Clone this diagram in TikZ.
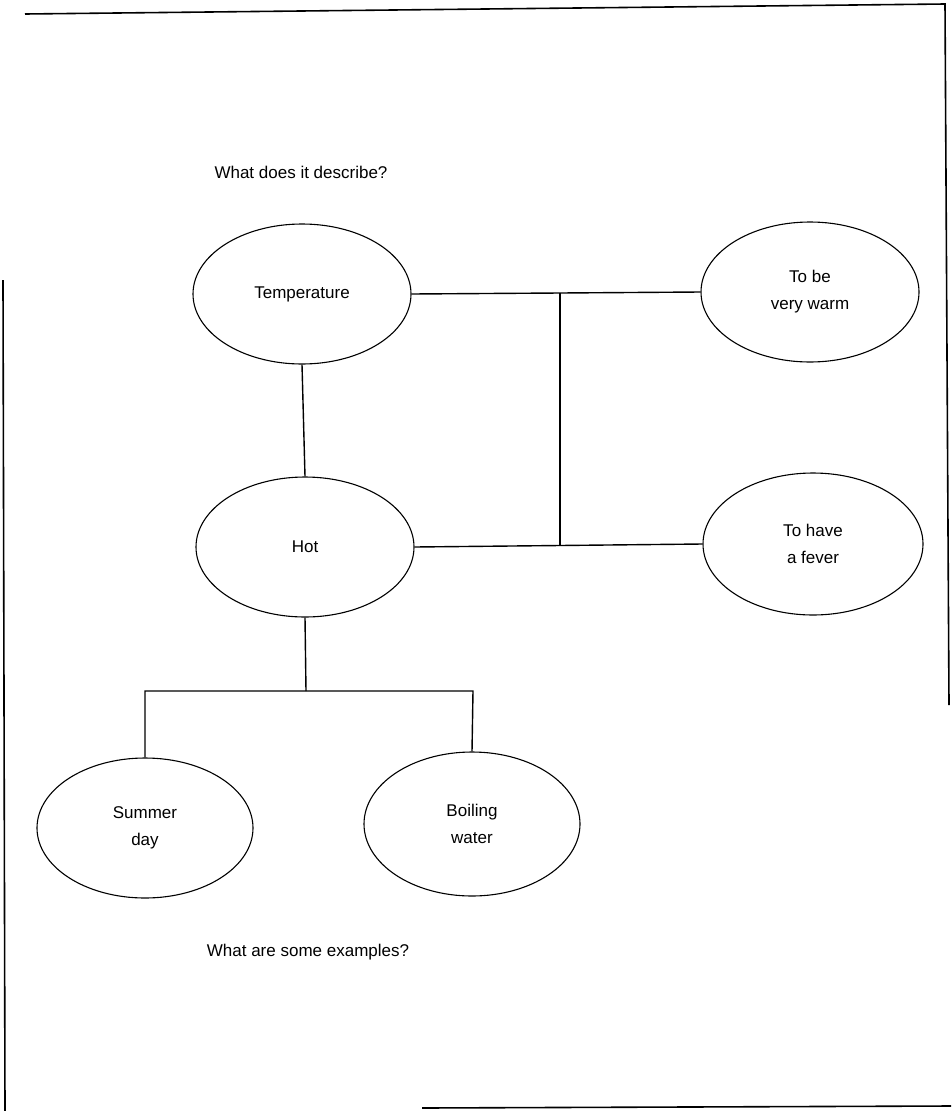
\documentclass[tikz,border=0pt]{standalone}
\usepackage{fontspec}
\setmainfont{Liberation Sans}
\usetikzlibrary{shapes.geometric}
\tikzset{
  bubble/.style={draw, ellipse, line width=1.1pt, inner sep=0pt,
    minimum width=#1, align=center, font=\fontsize{17}{27}\selectfont},
  bubble/.default=218pt,
  link/.style={line width=1.4pt},
  frame/.style={line width=1.6pt},
  caption/.style={font=\fontsize{17}{20}\selectfont, inner sep=0pt}
}
\begin{document}
\begin{tikzpicture}[x=1pt,y=-1pt]
\useasboundingbox (0,0) rectangle (951,1111);
% scanned page frame
\coordinate (f1) at (25,14);
\coordinate (f2) at (945,4);
\coordinate (f3) at (949,705);
\coordinate (f4) at (3,280);
\coordinate (f5) at (5,1111);
\coordinate (f6) at (422,1108);
\coordinate (f7) at (951,1106);
\draw[frame] (f1) -- (f2) -- (f3);
\draw[frame] (f4) -- (f5);
\draw[frame] (f6) -- (f7);

\node[caption] (q1) at (301,172) {What does it describe?};
\node[bubble=218pt, minimum height=140pt] (temp) at (302,294) {Temperature};
\node[bubble=218pt, minimum height=140pt] (warm) at (810,292) {To be\\very warm};
\node[bubble=218pt, minimum height=140pt] (hot) at (305,547) {Hot};
\node[bubble=220pt, minimum height=142pt] (fever) at (813,544) {To have\\a fever};
\node[bubble=216pt, minimum height=140pt] (summer) at (145,828) {Summer\\day};
\node[bubble=216pt, minimum height=144pt] (boil) at (472,824) {Boiling\\water};
\node[caption] (q2) at (308,952) {What are some examples?};

\coordinate (j1) at (560,293);
\coordinate (j2) at (560,545.5);
\coordinate (j3) at (306,691);
\coordinate (j4) at (145,691);
\coordinate (j5) at (473,691);

\draw[link] (temp.east) -- (j1) -- (warm.west);
\draw[link] (hot.east) -- (j2) -- (fever.west);
\draw[link] (j1) -- (j2);
\draw[link] (temp.south) -- (hot.north);
\draw[link] (hot.south) -- (j3);
\draw[link] (summer.north) -- (j4) -- (j5) -- (boil.north);
\end{tikzpicture}
\end{document}
